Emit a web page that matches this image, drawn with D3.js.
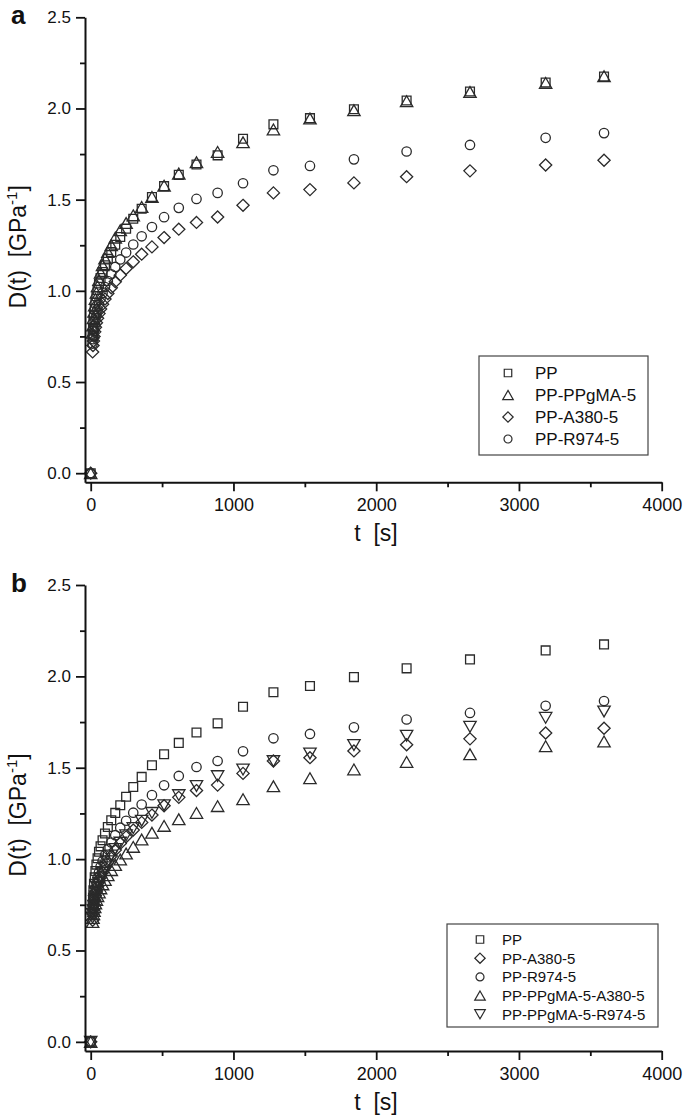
<!DOCTYPE html>
<html><head><meta charset="utf-8">
<script src="https://cdn.jsdelivr.net/npm/d3@7"></script>
<style>
body{margin:0;background:#fff}
svg{display:block}
text{font-family:"Liberation Sans",Arial,sans-serif;fill:#111}
</style>
</head><body>
<svg id="c" width="684" height="1116"></svg>
<script>
// ---------------- data ----------------
const times = [0, 13.4, 16, 19, 23, 28, 33, 40, 48, 58, 69, 83, 100, 120, 144, 172, 207, 248, 298, 357, 429, 514, 617, 741, 889, 1067, 1280, 1536, 1844, 2213, 2657, 3187, 3596];
const ppVals       = [0, 0.75, 0.79, 0.83, 0.865, 0.90, 0.935, 0.97, 1.005, 1.04, 1.07, 1.103, 1.14, 1.176, 1.213, 1.253, 1.295, 1.341, 1.395, 1.45, 1.514, 1.574, 1.636, 1.693, 1.743, 1.834, 1.913, 1.947, 1.996, 2.044, 2.093, 2.142, 2.175];
const ppgmaVals    = [0, 0.77, 0.81, 0.85, 0.885, 0.92, 0.955, 0.99, 1.025, 1.06, 1.10, 1.14, 1.177, 1.213, 1.25, 1.292, 1.332, 1.372, 1.414, 1.46, 1.515, 1.577, 1.643, 1.705, 1.762, 1.815, 1.885, 1.945, 1.99, 2.04, 2.09, 2.14, 2.177];
const a380Vals     = [0, 0.665, 0.70, 0.725, 0.75, 0.775, 0.80, 0.825, 0.85, 0.875, 0.90, 0.927, 0.955, 0.985, 1.017, 1.05, 1.086, 1.122, 1.159, 1.201, 1.241, 1.292, 1.338, 1.375, 1.405, 1.469, 1.537, 1.555, 1.592, 1.626, 1.658, 1.69, 1.716];
const r974Vals     = [0, 0.711, 0.735, 0.755, 0.78, 0.81, 0.84, 0.87, 0.898, 0.927, 0.958, 0.988, 1.021, 1.054, 1.091, 1.131, 1.172, 1.21, 1.254, 1.299, 1.35, 1.404, 1.455, 1.504, 1.537, 1.59, 1.661, 1.685, 1.721, 1.764, 1.80, 1.839, 1.865];
const gmaA380Vals  = [0, 0.656, 0.678, 0.698, 0.717, 0.737, 0.757, 0.777, 0.797, 0.818, 0.84, 0.862, 0.886, 0.912, 0.94, 0.968, 0.998, 1.031, 1.067, 1.107, 1.144, 1.182, 1.218, 1.253, 1.29, 1.328, 1.399, 1.443, 1.491, 1.532, 1.574, 1.618, 1.644];
const gmaR974Vals  = [0, 0.68, 0.70, 0.72, 0.745, 0.77, 0.795, 0.82, 0.845, 0.87, 0.895, 0.925, 0.955, 0.988, 1.02, 1.055, 1.09, 1.13, 1.17, 1.21, 1.253, 1.295, 1.35, 1.40, 1.454, 1.49, 1.536, 1.578, 1.624, 1.675, 1.724, 1.773, 1.808];

const xTicks = [0, 1000, 2000, 3000, 4000];
const xMinorTicks = [500, 1500, 2500, 3500];
const yTicks = [0, 0.5, 1.0, 1.5, 2.0, 2.5];
const yMinorTicks = [0.25, 0.75, 1.25, 1.75, 2.25];

const legendA = ["PP", "PP-PPgMA-5", "PP-A380-5", "PP-R974-5"];
const shapesA = ["square", "up", "diamond", "circle"];
const seriesA = [ppVals, ppgmaVals, a380Vals, r974Vals];

const legendB = ["PP", "PP-A380-5", "PP-R974-5", "PP-PPgMA-5-A380-5", "PP-PPgMA-5-R974-5"];
const shapesB = ["square", "diamond", "circle", "up", "down"];
const seriesB = [ppVals, a380Vals, r974Vals, gmaA380Vals, gmaR974Vals];

// ---------------- drawing ----------------
const svg = d3.select("#c");
const STROKE = "#2a2a2a";

function markerPath(shape, k) {
  k = k || 1;
  if (shape === "square") { const h = 4.4 * k; return `M${-h},${-h}H${h}V${h}H${-h}Z`; }
  if (shape === "circle") { const r = 4.7 * k; return `M${r},0A${r},${r} 0 1,1 ${-r},0A${r},${r} 0 1,1 ${r},0Z`; }
  if (shape === "diamond") { const w = 6.1 * k, h = 6 * k; return `M0,${-h}L${w},0L0,${h}L${-w},0Z`; }
  if (shape === "up") { const w = 6.2 * k, h = 5.4 * k; return `M0,${-h}L${w},${h}L${-w},${h}Z`; }
  if (shape === "down") { const w = 6.2 * k, h = 5.4 * k; return `M${-w},${-h}L${w},${-h}L0,${h}Z`; }
}

function panel(cfg) {
  const g = svg.append("g");
  const x = d3.scaleLinear().domain([-40, 4000]).range([85, 661.7]);
  const y = d3.scaleLinear().domain([-0.05, 2.5]).range([cfg.yBottom, cfg.yTop]);

  // series
  cfg.series.forEach((vals, si) => {
    g.append("g").selectAll("path").data(times.map((t, i) => [t, vals[i]]))
      .join("path")
      .attr("d", markerPath(cfg.shapes[si]))
      .attr("transform", d => `translate(${x(d[0])},${y(d[1])})`)
      .attr("fill", "none").attr("stroke", STROKE).attr("stroke-width", 1.3);
  });

  // axes
  const fmt = d3.format(".1f");
  const yAx = g.append("g").attr("transform", `translate(${x.range()[0]},0)`)
    .call(d3.axisLeft(y).tickValues(yTicks).tickFormat(fmt).tickSize(9).tickSizeOuter(0).tickPadding(5));
  const yAxMin = g.append("g").attr("transform", `translate(${x.range()[0]},0)`)
    .call(d3.axisLeft(y).tickValues(yMinorTicks).tickFormat("").tickSize(5).tickSizeOuter(0));
  yAxMin.select(".domain").remove();
  const xAx = g.append("g").attr("transform", `translate(0,${y.range()[0]})`)
    .call(d3.axisBottom(x).tickValues(xTicks).tickFormat(d3.format("d")).tickSize(9).tickSizeOuter(0).tickPadding(7));
  const xAxMin = g.append("g").attr("transform", `translate(0,${y.range()[0]})`)
    .call(d3.axisBottom(x).tickValues(xMinorTicks).tickFormat("").tickSize(5).tickSizeOuter(0));
  xAxMin.select(".domain").remove();
  g.selectAll(".domain").attr("stroke", "#111").attr("stroke-width", 2);
  g.selectAll(".tick line").attr("stroke", "#111").attr("stroke-width", 1.8);
  yAx.selectAll("text").attr("font-size", 17).style("font-family", '"Liberation Sans",Arial,sans-serif').attr("fill", "#111");
  xAx.selectAll("text").attr("font-size", 18).style("font-family", '"Liberation Sans",Arial,sans-serif').attr("fill", "#111");

  // titles
  g.append("text").attr("x", 376).attr("y", cfg.yBottom + 59).attr("text-anchor", "middle")
    .attr("font-size", 23).text("t\u00a0\u00a0[s]");
  const yt = g.append("text").attr("transform", `translate(26,${(cfg.yTop + cfg.yBottom) / 2 - 3}) rotate(-90)`)
    .attr("text-anchor", "middle").attr("font-size", 23);
  yt.append("tspan").text("D(t)\u00a0\u00a0[GPa");
  yt.append("tspan").attr("dy", -9).attr("font-size", 15).text("-1");
  yt.append("tspan").attr("dy", 9).text("]");

  // panel letter
  g.append("text").attr("x", 11).attr("y", cfg.yTop + 7).attr("font-size", 26).attr("font-weight", "bold").text(cfg.letter);

  // legend
  const L = cfg.legend;
  g.append("rect").attr("x", L.x0).attr("y", L.y0).attr("width", L.x1 - L.x0).attr("height", L.y1 - L.y0)
    .attr("fill", "#fff").attr("stroke", "#444").attr("stroke-width", 1.2);
  cfg.labels.forEach((lab, i) => {
    const cy = L.rowY + i * L.dy;
    g.append("path").attr("d", markerPath(cfg.shapes[i], 0.85))
      .attr("transform", `translate(${L.symX},${cy})`)
      .attr("fill", "none").attr("stroke", STROKE).attr("stroke-width", 1.2);
    g.append("text").attr("x", L.textX).attr("y", cy).attr("dy", "0.36em")
      .attr("font-size", L.fs).text(lab);
  });
}

panel({
  letter: "a", yTop: 17.3, yBottom: 482.3,
  series: seriesA, shapes: shapesA, labels: legendA,
  legend: { x0: 479, y0: 356, x1: 648, y1: 455, symX: 508, textX: 535, rowY: 373, dy: 22, fs: 17 }
});
panel({
  letter: "b", yTop: 585, yBottom: 1051,
  series: seriesB, shapes: shapesB, labels: legendB,
  legend: { x0: 447, y0: 924, x1: 658, y1: 1027, symX: 480, textX: 502, rowY: 939.5, dy: 18.7, fs: 15 }
});
</script>
</body></html>
